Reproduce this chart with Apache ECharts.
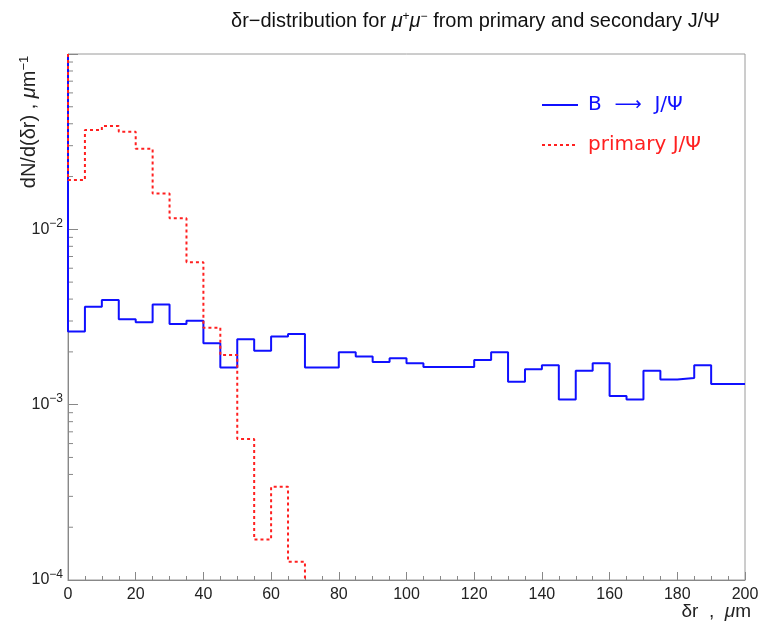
<!DOCTYPE html>
<html><head><meta charset="utf-8">
<script src="https://cdn.jsdelivr.net/npm/echarts@6/dist/echarts.min.js"></script>
<style>html,body{margin:0;padding:0;background:#fff}#c{width:767px;height:621px}</style>
</head><body><div id="c"></div>
<script>
// left edges of 5 µm bins
const binWidth = 5;
const bEdges = [0,5,10,15,20,25,30,35,40,45,50,55,60,65,70,75,80,85,90,95,
  100,105,110,115,120,125,130,135,140,145,150,155,160,165,170,175,180,185,190,195];
const bToJpsi = [0.00261,0.00362,0.00395,0.00307,0.00295,0.00373,0.00288,0.00301,0.00224,0.00163,
  0.00236,0.00203,0.00245,0.00253,0.00163,0.00163,0.00199,0.00188,0.00175,0.00184,
  0.00172,0.00164,0.00164,0.00164,0.00180,0.00199,0.00135,0.00159,0.00168,0.00107,
  0.00156,0.00172,0.00112,0.00107,0.00156,0.00139,0.00142,0.00168,0.00131,0.00131];
const pEdges = [0,5,10,15,20,25,30,35,40,45,50,55,60,65];
const primaryJpsi = [0.0191,0.0368,0.0388,0.0360,0.0288,0.0160,0.01156,0.0065,0.00275,0.00192,
  0.000637,0.000170,0.000340,0.000127];
const underflowValue = 0.1;   // line entering from the top at x=0
const xTickLabels = [0,20,40,60,80,100,120,140,160,180,200];
const yMin = 1e-4, yMax = 1e-1;
const nameB = 'B → J/Ψ', nameP = 'primary J/Ψ';

function stepData(edges, vals, endValue) {
  const d = [[edges[0], underflowValue]];
  edges.forEach((e, i) => d.push([e, vals[i]]));
  const last = edges[edges.length - 1] + binWidth;
  d.push([last, endValue !== undefined ? endValue : vals[vals.length - 1]]);
  return d;
}

// minor ticks of log axis (2..9 in each decade)
const yMinor = [];
for (let e = -4; e < -1; e++) for (let k = 2; k <= 9; k++) yMinor.push([0, k * Math.pow(10, e)]);

const font = '"Liberation Sans", Arial, sans-serif';
const lfont = '"DejaVu Sans", sans-serif';
const chart = echarts.init(document.getElementById('c'));
chart.setOption({
  animation: false,
  backgroundColor: '#fff',
  textStyle: { fontFamily: font },
  grid: { left: 68, right: 22, top: 54, bottom: 41, show: true, borderColor: '#9a9a9a', borderWidth: 1, backgroundColor: 'transparent' },
  title: {
    text: 'δr−distribution for {m|μ}{s|+}{m|μ}{s|−} from primary and secondary J/Ψ',
    left: 226, top: 6,
    textStyle: {
      fontFamily: font, fontSize: 20, fontWeight: 'normal', color: '#111',
      rich: {
        m: { fontFamily: font, fontSize: 20, fontStyle: 'italic', color: '#111' },
        s: { fontFamily: font, fontSize: 12, color: '#111', verticalAlign: 'top', padding: [0, 0, 9, 0] }
      }
    }
  },
  legend: {
    orient: 'vertical', left: 536, top: 90, itemWidth: 36, itemHeight: 12, itemGap: 20,
    itemStyle: { color: 'transparent', borderWidth: 0, opacity: 0 },
    textStyle: { fontFamily: lfont, fontSize: 20, padding: [0, 0, 0, 5] },
    formatter: n => n === nameB ? 'B  {a|⟶}  J/Ψ' : n,
    data: [
      { name: nameB, textStyle: { color: '#1010ff', rich: { a: { fontFamily: lfont, fontSize: 19, color: '#1010ff' } } } },
      { name: nameP, textStyle: { color: '#ff2020' } }
    ]
  },
  xAxis: {
    type: 'value', min: 0, max: 200, interval: 20,
    axisLine: { onZero: false, lineStyle: { color: '#888', width: 1 } },
    axisTick: { inside: true, length: 8, lineStyle: { color: '#888' } },
    minorTick: { show: true, splitNumber: 4, length: 4, lineStyle: { color: '#888' } },
    splitLine: { show: false },
    axisLabel: { fontFamily: font, fontSize: 16, color: '#222', margin: 7,
      formatter: v => xTickLabels.indexOf(v) >= 0 ? String(v) : '' }
  },
  yAxis: {
    type: 'log', logBase: 10, min: yMin, max: yMax,
    axisLine: { lineStyle: { color: '#888', width: 1 } },
    axisTick: { inside: true, length: 10, lineStyle: { color: '#888' } },
    splitLine: { show: false },
    axisLabel: {
      fontFamily: font, fontSize: 16, color: '#222', margin: 5,
      formatter: v => {
        const e = Math.round(Math.log10(v));
        if (e >= -1) return '';
        return '10{s|' + e.toString().replace('-', '−') + '}';
      },
      rich: { s: { fontFamily: font, fontSize: 12, color: '#222', verticalAlign: 'top', padding: [0, 0, 11, 0] } }
    }
  },
  graphic: [
    { type: 'text', x: 29, y: 122, rotation: Math.PI / 2,
      style: { text: 'dN/d(δr) , {m|μ}m{s|−1}', fontFamily: font, fontSize: 20, fill: '#222',
        align: 'center', verticalAlign: 'middle',
        rich: { m: { fontFamily: font, fontSize: 20, fontStyle: 'italic', fill: '#222' },
                s: { fontFamily: font, fontSize: 13, fill: '#222', verticalAlign: 'top', padding: [0, 0, 10, 0] } } } },
    { type: 'text', right: 16, top: 602,
      style: { text: 'δr  ,  {m|μ}m', fontFamily: font, fontSize: 19, fill: '#222',
        rich: { m: { fontFamily: font, fontSize: 19, fontStyle: 'italic', fill: '#222' } } } }
  ],
  series: [
    {
      name: nameB, type: 'line', step: 'end', showSymbol: false, symbol: 'none',
      data: stepData(bEdges, bToJpsi),
      lineStyle: { color: '#1010ff', width: 2 }, itemStyle: { color: '#1010ff' }, z: 3
    },
    {
      name: nameP, type: 'line', step: 'end', showSymbol: false, symbol: 'none',
      data: stepData(pEdges, primaryJpsi, yMin),
      lineStyle: { color: '#ff2020', width: 2, type: [3, 3] }, itemStyle: { color: '#ff2020' }, z: 4
    },
    {
      type: 'custom', silent: true, data: yMinor, z: 2,
      renderItem: (params, api) => {
        const p = api.coord([api.value(0), api.value(1)]);
        return { type: 'line', shape: { x1: p[0], y1: p[1], x2: p[0] + 5, y2: p[1] },
          style: { stroke: '#888', lineWidth: 1 } };
      }
    }
  ]
});
</script>
</body></html>
